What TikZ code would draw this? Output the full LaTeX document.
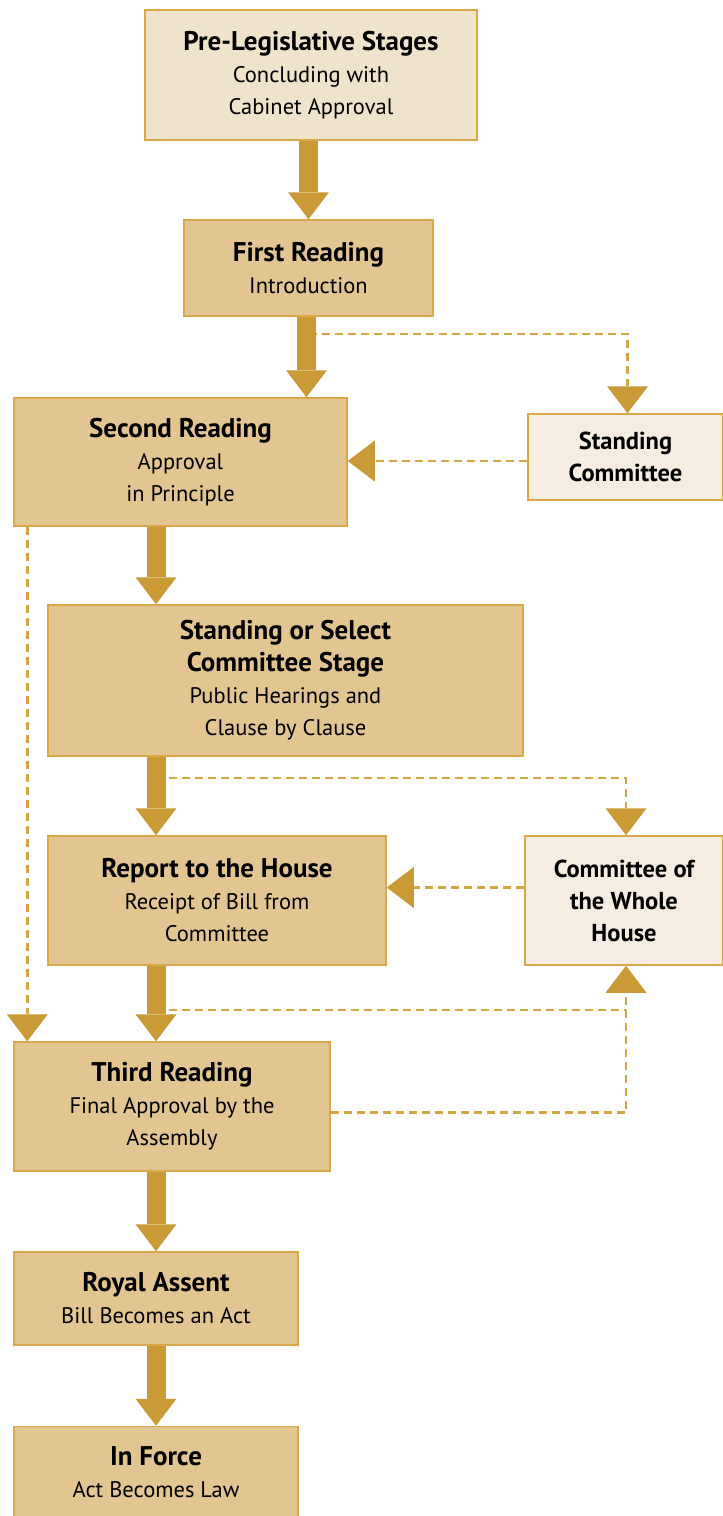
\documentclass[tikz,border=0pt]{standalone}
\usepackage{fontspec}
\setmainfont{PT Sans}
\usetikzlibrary{arrows.meta, calc}

\definecolor{stagefill}{HTML}{E2C591}
\definecolor{prefill}{HTML}{F0E3CB}
\definecolor{sidefill}{HTML}{F6EDE2}
\definecolor{edgecol}{HTML}{D9A84A}
\definecolor{arrowcol}{HTML}{C99A36}
\definecolor{dashcol}{HTML}{D5A548}

% bold heading line of a stage box
\newcommand{\stagetitle}[1]{{\fontsize{27}{32}\selectfont\bfseries #1}}

\begin{document}
\begin{tikzpicture}[
		x=1pt, y=-1pt,
		inner sep=2mm,
		font=\fontsize{22.5}{32}\selectfont,
		stage/.style={
				rectangle,
				align=center,
				line width=1.5pt,
				draw=edgecol,
				fill=stagefill
			},
		prestage/.style={stage, fill=prefill},
		sidebox/.style={
				stage,
				fill=sidefill,
				font=\fontsize{24.5}{32}\selectfont\bfseries
			},
		fatarrow/.style={
				draw=arrowcol,
				line width=19pt,
				-{Triangle[width=41pt, length=27pt, line width=0pt]}
			},
		dashlink/.style={
				draw=dashcol,
				line width=2.5pt,
				dash pattern=on 8pt off 5pt,
				-{Triangle[width=41pt, length=27pt, line width=0pt, color=arrowcol]}
			},
		]

		\useasboundingbox (0,0) rectangle (723,1516);

		\node[prestage, minimum width=332pt, minimum height=130pt] (pre) at (311,75)
			{\stagetitle{Pre-Legislative Stages}\\Concluding with\\Cabinet Approval};

		\node[stage, minimum width=249pt, minimum height=96pt] (first) at (308.5,268)
			{\stagetitle{First Reading}\\Introduction};

		\node[stage, minimum width=333pt, minimum height=128pt] (second) at (180.5,462)
			{\stagetitle{Second Reading}\\Approval\\in Principle};

		\node[sidebox, minimum width=195pt, minimum height=86pt] (standing) at (625.5,457)
			{Standing\\Committee};

		\node[stage, minimum width=475pt, minimum height=151pt] (select) at (285.5,680.5)
			{\stagetitle{Standing or Select}\\\stagetitle{Committee Stage}\\Public Hearings and\\Clause by Clause};

		\node[stage, minimum width=338pt, minimum height=129pt] (report) at (217,900.5)
			{\stagetitle{Report to the House}\\Receipt of Bill from\\Committee};

		\node[sidebox, minimum width=198pt, minimum height=129pt] (whole) at (624,900.5)
			{Committee of\\the Whole\\House};

		\node[stage, minimum width=316pt, minimum height=129pt] (third) at (172,1106.5)
			{\stagetitle{Third Reading}\\Final Approval by the\\Assembly};

		\node[stage, minimum width=284pt, minimum height=93pt] (royal) at (156,1298.5)
			{\stagetitle{Royal Assent}\\Bill Becomes an Act};

		\node[stage, minimum width=284pt, minimum height=91pt] (inforce) at (156,1472)
			{\stagetitle{In Force}\\Act Becomes Law};

		% optional routes (dashed), drawn first so the main arrows sit on top
		\draw[dashlink] ([yshift=-17pt]first.south) -| ([xshift=2pt]standing.north);
		\draw[dashlink] ([yshift=-4pt]standing.west) -- ([yshift=-4pt]standing.west -| second.east);
		\draw[dashlink] ([xshift=14pt]second.south west) -- ([xshift=14pt]third.north west);
		\draw[dashlink] ([yshift=-21pt]select.south -| royal.north) -| ([xshift=2pt]whole.north);
		\draw[dashlink] ([yshift=13pt]whole.west) -- ([yshift=13pt]whole.west -| report.east);
		\draw[dashlink] ([yshift=-6pt]third.east) -| ([xshift=2pt]whole.south);
		\draw[dashlink, -] ([yshift=-44pt]report.south -| royal.north) -- ([xshift=2pt, yshift=-44pt]report.south -| whole.south);

		% main sequence
		\draw[fatarrow] (pre.south -| first.north) -- (first.north);
		\draw[fatarrow] ([xshift=-2pt]first.south) -- ([xshift=-2pt]first.south |- second.north);
		\draw[fatarrow] (second.south -| royal.north) -- (select.north -| royal.north);
		\draw[fatarrow] (select.south -| royal.north) -- (report.north -| royal.north);
		\draw[fatarrow] (report.south -| royal.north) -- (third.north -| royal.north);
		\draw[fatarrow] (third.south -| royal.north) -- (royal.north);
		\draw[fatarrow] (royal.south) -- (inforce.north);

	\end{tikzpicture}
\end{document}
